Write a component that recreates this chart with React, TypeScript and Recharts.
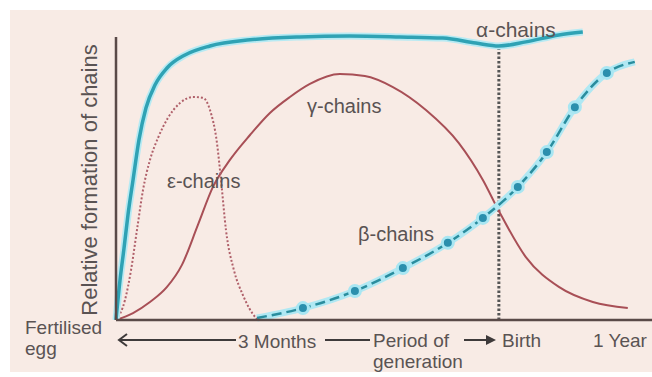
import { ComposedChart, Line, XAxis, YAxis, ReferenceLine } from "recharts";

// x: weeks from fertilisation (birth = 40), y: relative formation (%)
const alphaX = [0, 0.42, 0.84, 1.25, 1.78, 2.4, 3.13, 4.07, 5.33, 7.21, 9.82, 14.0, 19.2, 24.4, 29.66, 34.15, 37.6, 40, 42.82, 46.27, 48.77];
const alphaY = [0, 13.8, 24.8, 36.2, 48.3, 62.1, 73.1, 81.0, 86.9, 91.4, 94.5, 96.6, 97.6, 97.9, 97.6, 97.2, 95.5, 94.5, 95.9, 98.3, 99.3];

const gammaX = [0, 1.78, 3.55, 5.33, 6.89, 8.56, 10.13, 11.9, 14.0, 16.08, 18.17, 20.26, 23.39, 26.0, 28.93, 32.38, 35.82, 38.33, 40, 42.82, 46.27, 49.82, 53.47];
const gammaY = [0, 2.4, 6.2, 11.4, 19.0, 32.8, 45.9, 55.2, 63.8, 71.4, 76.9, 81.4, 84.8, 84.1, 80.3, 72.4, 61.0, 48.3, 37.6, 21.7, 11.4, 6.2, 4.1];

const epsilonX = [0, 0.94, 1.57, 2.19, 2.82, 3.55, 4.39, 5.43, 6.68, 8.04, 9.09, 9.82, 10.55, 10.97, 11.49, 12.32, 13.26, 14.62, 14.83];
const epsilonY = [0, 6.9, 17.2, 31.0, 44.8, 55.2, 62.8, 69.7, 74.8, 76.9, 76.6, 72.4, 61.0, 48.3, 31.0, 17.2, 8.6, 0.7, 0];

const betaX = [14.73, 19.53, 24.96, 29.97, 34.67, 38.33, 41.98, 45.01, 47.94, 51.28, 54.2];
const betaY = [0.7, 4.1, 10.0, 17.9, 26.6, 35.2, 45.9, 57.9, 73.4, 85.2, 89.0];

const BIRTH = 40;
const BIRTH_TOP = 94.8;
const AXIS_TOP = 97.6;

const zip = (xs: number[], ys: number[]) => xs.map((x, i) => ({ x, y: ys[i] }));

const alpha = zip(alphaX, alphaY);
const gamma = zip(gammaX, gammaY);
const epsilon = zip(epsilonX, epsilonY);
const beta = zip(betaX, betaY);
const betaDots = beta.slice(1, -1);

const TEXT = "#5a5353";
const AXIS = "#5a4a48";
const FONT = "'Liberation Sans', Arial, sans-serif";

export default function App() {
  return (
    <div style={{ position: "absolute", left: 0, top: 0, width: 652, height: 377, background: "#fff" }}>
      <div style={{ position: "absolute", left: 10, top: 10, width: 642, height: 362, background: "#f8ebe5" }} />
      <div style={{ position: "absolute", left: 0, top: 0 }}>
        <ComposedChart width={652} height={377} margin={{ top: 30, right: 0, bottom: 57, left: 116 }}>
          <XAxis type="number" dataKey="x" domain={[0, 56]} hide />
          <YAxis type="number" dataKey="y" domain={[0, 100]} hide />

          <ReferenceLine segment={[{ x: BIRTH, y: 0 }, { x: BIRTH, y: BIRTH_TOP }]} stroke="#555" strokeWidth={3} strokeDasharray="2.5 2" />

          {/* gamma */}
          <Line data={gamma} dataKey="y" type="monotone" stroke="#a84f56" strokeWidth={2} dot={false} isAnimationActive={false} />
          {/* epsilon */}
          <Line data={epsilon} dataKey="y" type="monotone" stroke="#b0606a" strokeWidth={2} strokeDasharray="2 2" dot={false} isAnimationActive={false} />

          {/* alpha */}
          <Line data={alpha} dataKey="y" type="monotone" stroke="#b6eaf3" strokeWidth={7} dot={false} isAnimationActive={false} />
          <Line data={alpha} dataKey="y" type="monotone" stroke="#2fa2b4" strokeWidth={3.5} dot={false} isAnimationActive={false} />

          {/* beta */}
          <Line data={beta} dataKey="y" type="monotone" stroke="#b0e8f3" strokeWidth={7} dot={false} isAnimationActive={false} />
          <Line data={beta} dataKey="y" type="monotone" stroke="#2a8d9e" strokeWidth={2.5} strokeDasharray="10 5" dot={false} isAnimationActive={false} />
          <Line
            data={betaDots}
            dataKey="y"
            stroke="none"
            dot={{ r: 5.5, fill: "#2b8fad", stroke: "#a9e6f2", strokeWidth: 3 }}
            isAnimationActive={false}
          />

          <ReferenceLine segment={[{ x: 0, y: 0 }, { x: 0, y: AXIS_TOP }]} stroke={AXIS} strokeWidth={2.5} />
          <ReferenceLine segment={[{ x: 0, y: 0 }, { x: 56, y: 0 }]} stroke={AXIS} strokeWidth={2.5} />
        </ComposedChart>
      </div>
      <svg width={652} height={377} style={{ position: "absolute", left: 0, top: 0, pointerEvents: "none" }}>
        <g fill={TEXT} fontFamily={FONT} fontSize={20}>
          <text x={476} y={37} fontSize={21}>α-chains</text>
          <text x={307} y={113}>γ-chains</text>
          <text x={167} y={188}>ε-chains</text>
          <text x={358} y={241}>β-chains</text>
          <text transform="translate(97,180) rotate(-90)" textAnchor="middle" fontSize={22}>Relative formation of chains</text>
        </g>
        <g fill={TEXT} fontFamily={FONT} fontSize={19}>
          <text x={25} y={334}>Fertilised</text>
          <text x={25} y={355}>egg</text>
          <text x={238} y={348}>3 Months</text>
          <text x={373} y={347}>Period of</text>
          <text x={373} y={368}>generation</text>
          <text x={502} y={347}>Birth</text>
          <text x={593} y={347}>1 Year</text>
        </g>
        <g stroke="#3e3a3a" strokeWidth={2} fill="none">
          <line x1={119} y1={340} x2={236} y2={340} />
          <path d="M127 334 L119 340 L127 346" />
          <line x1={325} y1={340} x2={370} y2={340} />
          <line x1={464} y1={340} x2={488} y2={340} />
        </g>
        <path d="M486 335 L496 340 L486 345 Z" fill="#3e3a3a" />
      </svg>
    </div>
  );
}
